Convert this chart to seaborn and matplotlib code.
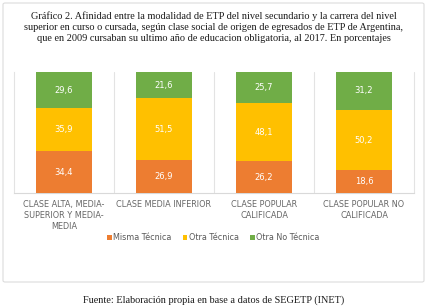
import matplotlib
matplotlib.use("Agg")
import matplotlib.pyplot as plt
import seaborn as sns
import numpy as np
from matplotlib.patches import FancyBboxPatch, Patch

categories = ["CLASE ALTA, MEDIA-\nSUPERIOR Y MEDIA-\nMEDIA", "CLASE MEDIA INFERIOR",
              "CLASE POPULAR\nCALIFICADA", "CLASE POPULAR NO\nCALIFICADA"]
misma_tecnica = [34.4, 26.9, 26.2, 18.6]
otra_tecnica = [35.9, 51.5, 48.1, 50.2]
otra_no_tecnica = [29.6, 21.6, 25.7, 31.2]
series_names = ["Misma Técnica", "Otra Técnica", "Otra No Técnica"]
colors = ["#ED7D31", "#FFC000", "#70AD47"]

title = ("Gráfico 2. Afinidad entre la modalidad de ETP del nivel secundario y la carrera del nivel\n"
         "superior en curso o cursada, según clase social de origen de egresados de ETP de Argentina,\n"
         "que en 2009 cursaban su ultimo año de educacion obligatoria, al 2017. En porcentajes")
source = "Fuente: Elaboración propia en base a datos de SEGETP (INET)"

sns.set_theme(style="white")
plt.rcParams['font.family'] = ['DejaVu Sans']

W, H = 427, 308
fig = plt.figure(figsize=(W / 100, H / 100), dpi=100)

# panel frame
frame = FancyBboxPatch((3 / W, (H - 282) / H), 421 / W, 279 / H,
                       boxstyle="round,pad=0,rounding_size=0.005",
                       transform=fig.transFigure, facecolor="white",
                       edgecolor="#dcdcdc", linewidth=0.8, zorder=-10)
fig.patches.append(frame)

fig.text(0.5, 1 - 27 / H, title, ha="center", va="center", fontsize=7.4,
         family="Liberation Serif", color="#1a1a1a", linespacing=1.3)
fig.text(0.5, 1 - 300 / H, source, ha="center", va="center", fontsize=7.4,
         family="Liberation Serif", color="#1a1a1a")

ax_left, ax_right = 14 / W, 414 / W
ax_top, ax_bot = 72 / H, 193 / H
ax = fig.add_axes([ax_left, 1 - ax_bot, ax_right - ax_left, ax_bot - ax_top])
ax.set_zorder(2)

m = np.array(misma_tecnica)
o = np.array(otra_tecnica)
n = np.array(otra_no_tecnica)
cum = [m + o + n, m + o, m]
for vals, col in zip(cum, colors[::-1]):
    sns.barplot(x=list(range(len(categories))), y=vals, ax=ax, color=col,
                width=0.56, saturation=1, linewidth=0, zorder=3)

bases = [np.zeros(4), m, m + o]
for base, series in zip(bases, [misma_tecnica, otra_tecnica, otra_no_tecnica]):
    for i, v in enumerate(series):
        ax.text(i, base[i] + v / 2, f"{v:.1f}".replace(".", ","), ha="center",
                va="center", fontsize=6, color="white", zorder=5)

ax.set_xlim(-0.5, 3.5)
ax.set_ylim(0, 100)
ax.set_yticks([])
ax.set_xticks(range(4))
ax.set_xticklabels(categories, fontsize=5.9, color="#666666", linespacing=1.3)
ax.tick_params(axis="x", length=0, pad=5)
ax.set_xlabel("")
ax.set_ylabel("")
for b in [0.5, 1.5, 2.5, 3.5]:
    ax.axvline(b, color="#e3e3e3", lw=0.8, zorder=1, clip_on=False)
for s in ["top", "right"]:
    ax.spines[s].set_visible(False)
ax.spines["left"].set_color("#e3e3e3")
ax.spines["left"].set_linewidth(0.8)
ax.spines["bottom"].set_color("#d9d9d9")
ax.spines["bottom"].set_linewidth(0.8)
ax.patch.set_alpha(0)

handles = [Patch(facecolor=c, edgecolor="none") for c in colors]
fig.legend(handles, series_names, loc="center", bbox_to_anchor=(0.5, 1 - 238 / H),
           ncol=3, frameon=False, fontsize=5.8, handlelength=0.55, handleheight=0.55,
           handletextpad=0.2, columnspacing=1.4, labelcolor="#595959")

fig.savefig("out.png", dpi=100)
